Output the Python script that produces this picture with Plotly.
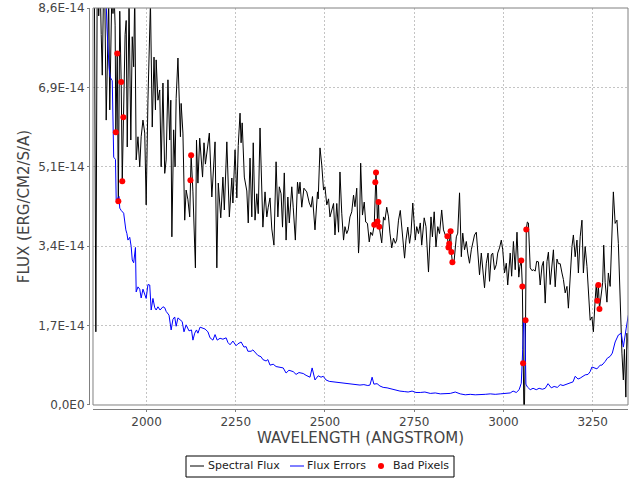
import numpy as np
import plotly.graph_objects as go

# wavelengths in Angstrom, flux values in units of 1e-14 erg/cm2/s/A
WAVELENGTH = [
    1850, 1854, 1858, 1862, 1866, 1870, 1873, 1876, 1880, 1883, 1887, 1890, 1894, 1897, 1900,
    1903, 1906, 1909, 1912, 1914, 1918, 1921, 1925, 1929, 1932, 1935, 1940, 1943, 1946, 1951,
    1956, 1960, 1964, 1967, 1971, 1976, 1981, 1985, 1990, 1995, 1999, 2004, 2011, 2016, 2021,
    2025, 2027, 2032, 2037, 2041, 2046, 2051, 2055, 2060, 2065, 2068, 2071, 2076, 2080, 2083,
    2088, 2095, 2097, 2102, 2107, 2111, 2116, 2121, 2123, 2125, 2130, 2134, 2137, 2140, 2144,
    2149, 2153, 2157, 2161, 2165, 2169, 2176, 2183, 2192, 2197, 2201, 2208, 2214, 2218, 2225,
    2232, 2239, 2242, 2248, 2253, 2257, 2262, 2265, 2268, 2274, 2281, 2285, 2290, 2295, 2299,
    2304, 2309, 2313, 2318, 2323, 2326, 2332, 2337, 2341, 2346, 2351, 2357, 2363, 2368, 2372,
    2377, 2381, 2386, 2391, 2396, 2400, 2407, 2411, 2417, 2423, 2427, 2430, 2435, 2441, 2449,
    2456, 2461, 2465, 2472, 2479, 2481, 2486, 2491, 2496, 2500, 2505, 2510, 2514, 2519, 2524,
    2528, 2533, 2538, 2542, 2547, 2552, 2556, 2561, 2565, 2570, 2575, 2580, 2584, 2589, 2594,
    2596, 2600, 2605, 2610, 2614, 2619, 2624, 2628, 2633, 2638, 2641, 2643, 2647, 2650, 2652,
    2659, 2664, 2668, 2673, 2678, 2682, 2687, 2692, 2697, 2701, 2706, 2711, 2715, 2720, 2723,
    2727, 2732, 2737, 2741, 2746, 2751, 2753, 2757, 2762, 2767, 2771, 2778, 2783, 2790, 2797,
    2801, 2806, 2811, 2816, 2821, 2827, 2832, 2837, 2843, 2846, 2848, 2852, 2854, 2857, 2862,
    2868, 2872, 2877, 2882, 2886, 2891, 2896, 2900, 2905, 2910, 2914, 2919, 2924, 2929, 2933,
    2938, 2942, 2947, 2952, 2957, 2961, 2966, 2970, 2975, 2980, 2984, 2989, 2994, 2998, 3003,
    3008, 3012, 3019, 3023, 3028, 3033, 3038, 3043, 3046, 3050, 3053, 3055, 3058, 3062, 3064,
    3067, 3070, 3075, 3080, 3084, 3089, 3093, 3098, 3103, 3108, 3112, 3117, 3122, 3126, 3131,
    3136, 3140, 3145, 3150, 3154, 3159, 3164, 3168, 3173, 3178, 3182, 3187, 3192, 3196, 3201,
    3206, 3210, 3215, 3220, 3224, 3229, 3234, 3238, 3243, 3248, 3252, 3257, 3260, 3263, 3266,
    3269, 3274, 3278, 3281, 3285, 3290, 3294, 3299, 3304, 3308, 3313, 3318, 3322, 3327, 3332,
    3336, 3339, 3343, 3346, 3350,
]
FLUX = [
    9.6, 9.0, 1.58, 9.5, 8.4, 9.2, 8.0, 7.12, 9.2, 8.9, 6.15, 7.66, 8.8, 6.37, 8.6,
    9.0, 8.45, 8.9, 8.2, 5.89, 7.59, 4.40, 8.5, 6.97, 4.83, 6.21, 8.0, 8.3, 5.57, 8.7,
    5.72, 7.95, 7.3, 8.9, 5.29, 5.79, 5.14, 5.79, 6.15, 5.87, 4.32, 6.58, 8.7, 6.0, 7.51,
    6.37, 7.45, 6.58, 6.8, 5.14, 6.95, 5.0, 5.29, 7.02, 5.72, 6.58, 3.63, 5.94, 5.14, 6.62,
    7.49, 5.79, 6.51, 5.87, 3.99, 4.64, 4.43, 4.06, 4.85, 5.39, 4.6, 3.6, 2.96, 5.72, 4.79,
    5.76, 5.3, 4.92, 5.66, 5.2, 5.44, 5.87, 4.49, 5.68, 2.96, 4.79, 4.04, 4.92, 4.21, 5.68,
    4.06, 4.9, 4.36, 5.51, 4.47, 5.6, 6.30, 5.66, 6.09, 4.92, 4.62, 3.93, 5.33, 4.06, 5.66,
    3.99, 4.56, 4.13, 5.98, 4.56, 3.84, 4.6, 4.06, 4.27, 4.47, 3.8, 3.45, 5.25, 4.06, 4.71,
    4.56, 3.84, 5.01, 3.56, 4.49, 3.93, 4.71, 4.27, 3.56, 4.81, 4.56, 4.81, 4.27, 4.68, 4.6,
    4.36, 4.27, 4.5, 3.78, 4.6, 4.45, 5.55, 5.18, 4.64, 4.71, 4.32, 4.45, 4.06, 4.2, 4.35,
    3.67, 4.35, 3.73, 5.03, 4.14, 3.56, 3.85, 3.70, 3.78, 4.06, 4.17, 4.53, 4.28, 4.68, 3.28,
    3.56, 5.22, 4.1, 4.38, 3.95, 3.92, 3.52, 3.73, 3.66, 3.89, 4.81, 5.02, 3.96, 4.38, 3.85,
    3.5, 4.06, 3.99, 4.27, 4.06, 3.71, 3.39, 3.6, 3.49, 3.56, 3.99, 4.2, 3.85, 3.35, 3.17,
    3.56, 3.84, 3.49, 3.71, 4.36, 3.68, 3.56, 3.85, 3.70, 3.93, 3.45, 4.04, 3.85, 2.87, 4.06,
    3.63, 4.17, 3.41, 3.85, 3.70, 4.21, 3.78, 3.67, 3.64, 3.40, 3.48, 3.75, 3.30, 3.08, 3.13,
    3.63, 3.71, 4.58, 3.2, 3.71, 3.35, 3.53, 3.28, 3.06, 3.35, 3.49, 3.67, 3.73, 3.28, 2.81,
    3.28, 2.99, 2.53, 3.06, 3.28, 2.67, 3.24, 3.28, 2.92, 3.03, 3.28, 3.39, 3.56, 3.35, 2.85,
    3.06, 2.59, 3.28, 2.78, 3.53, 2.92, 3.73, 2.76, 2.99, 3.12, 2.56, 0.90, -0.6, 1.83, 3.79,
    3.95, 3.93, 2.96, 2.9, 2.92, 2.89, 3.1, 3.09, 2.59, 3.0, 3.1, 2.2, 3.1, 3.3, 2.6,
    2.99, 3.35, 2.55, 3.15, 3.05, 3.05, 2.85, 2.71, 2.42, 2.56, 2.09, 2.92, 3.42, 3.67, 3.2,
    3.56, 2.85, 3.63, 3.99, 2.85, 3.42, 2.99, 2.42, 1.83, 1.9, 1.58, 2.27, 2.6, 2.25, 2.59,
    2.07, 2.35, 2.64, 3.45, 2.64, 2.22, 2.85, 2.56, 3.63, 4.60, 3.92, 3.99, 3.49, 2.12, 1.12,
    0.54, 1.2, 0.17, 1.55, 1.2,
]

ERR_WAVELENGTH = [
    1850, 1870, 1886, 1889, 1895, 1898, 1904, 1906, 1908, 1913, 1915, 1923, 1925, 1929, 1936,
    1942, 1945, 1948, 1953, 1957, 1960, 1964, 1969, 1971, 1976, 1981, 1985, 1990, 1995, 1999,
    2004, 2009, 2013, 2018, 2023, 2027, 2032, 2038, 2046, 2051, 2055, 2063, 2069, 2074, 2079,
    2083, 2088, 2095, 2100, 2105, 2111, 2119, 2126, 2130, 2135, 2140, 2144, 2150, 2158, 2164,
    2172, 2178, 2186, 2192, 2198, 2206, 2214, 2223, 2228, 2234, 2242, 2251, 2256, 2265, 2273,
    2279, 2284, 2293, 2298, 2307, 2312, 2321, 2326, 2335, 2340, 2346, 2355, 2363, 2371, 2383,
    2391, 2399, 2411, 2419, 2427, 2439, 2447, 2458, 2464, 2472, 2481, 2489, 2495, 2503, 2512,
    2523, 2531, 2542, 2556, 2570, 2584, 2598, 2609, 2620, 2626, 2632, 2637, 2646, 2654, 2663,
    2674, 2688, 2699, 2710, 2722, 2733, 2744, 2755, 2767, 2780, 2795, 2809, 2823, 2837, 2851,
    2865, 2879, 2893, 2907, 2921, 2935, 2949, 2963, 2977, 2991, 3005, 3019, 3027, 3036, 3044,
    3050, 3054, 3057, 3060, 3063, 3067, 3075, 3083, 3092, 3100, 3109, 3117, 3125, 3134, 3142,
    3151, 3159, 3167, 3176, 3187, 3195, 3201, 3209, 3215, 3223, 3229, 3237, 3243, 3248, 3257,
    3262, 3271, 3276, 3285, 3291, 3299, 3305, 3313, 3322, 3330, 3336, 3344, 3350,
]
FLUX_ERR = [
    12.0, 10.0, 9.0, 8.16, 7.3, 7.08, 7.0, 5.87, 5.35, 5.3, 4.43, 4.5, 4.25, 4.2, 4.14,
    3.78, 3.7, 3.56, 3.62, 3.42, 3.13, 3.07, 3.4, 2.44, 2.55, 2.5, 2.31, 2.5, 2.4, 2.3,
    2.6, 2.59, 2.05, 2.3, 2.1, 2.05, 2.12, 2.05, 2.12, 2.1, 2.02, 1.94, 1.62, 1.85, 1.9,
    1.7, 1.88, 1.84, 1.8, 1.58, 1.73, 1.6, 1.62, 1.40, 1.55, 1.62, 1.55, 1.68, 1.66, 1.64,
    1.58, 1.45, 1.40, 1.52, 1.4, 1.44, 1.42, 1.45, 1.35, 1.30, 1.38, 1.28, 1.32, 1.36, 1.25,
    1.26, 1.16, 1.16, 1.19, 1.1, 1.07, 1.04, 0.98, 0.95, 0.98, 0.86, 0.88, 0.83, 0.82, 0.80,
    0.69, 0.75, 0.72, 0.66, 0.70, 0.68, 0.64, 0.60, 0.80, 0.54, 0.63, 0.60, 0.62, 0.54, 0.51,
    0.50, 0.48, 0.47, 0.46, 0.45, 0.44, 0.43, 0.44, 0.42, 0.43, 0.60, 0.45, 0.46, 0.41, 0.38,
    0.37, 0.34, 0.33, 0.30, 0.29, 0.28, 0.30, 0.27, 0.27, 0.28, 0.25, 0.26, 0.24, 0.24, 0.25,
    0.28, 0.24, 0.22, 0.23, 0.22, 0.22, 0.23, 0.24, 0.23, 0.24, 0.25, 0.26, 0.30, 0.27, 0.33,
    0.47, 1.2, 1.88, 1.8, 0.45, 0.39, 0.33, 0.36, 0.33, 0.36, 0.34, 0.36, 0.46, 0.37, 0.40,
    0.38, 0.44, 0.42, 0.45, 0.48, 0.50, 0.62, 0.56, 0.58, 0.62, 0.65, 0.66, 0.72, 0.82, 0.80,
    0.78, 0.86, 0.86, 0.94, 1.01, 1.05, 1.12, 1.36, 1.51, 1.55, 1.25, 1.66, 1.94,
]

BAD_WAVELENGTH = [
    1914, 1918, 1921, 1929, 1932, 1935, 2123, 2125, 2638, 2641, 2643, 2647, 2650, 2652,
    2843, 2846, 2848, 2852, 2854, 2857, 3050, 3053, 3055, 3062, 3064, 3263, 3266, 3269,
]

X_TICKS = [2000, 2250, 2500, 2750, 3000, 3250]
Y_TICKS = [0, 1.714, 3.428, 5.142, 6.856, 8.57]
Y_TICK_LABELS = ["0,0E0", "1,7E-14", "3,4E-14", "5,1E-14", "6,9E-14", "8,6E-14"]
UNIT = 1e-14

flux = np.array(FLUX) * UNIT
flux_err = np.array(FLUX_ERR) * UNIT
bad_flux = [flux[WAVELENGTH.index(w)] for w in BAD_WAVELENGTH]

fig = go.Figure()
fig.add_trace(go.Scatter(x=WAVELENGTH, y=flux, mode="lines", name="Spectral Flux",
                         line=dict(color="black", width=1)))
fig.add_trace(go.Scatter(x=ERR_WAVELENGTH, y=flux_err, mode="lines", name="Flux Errors",
                         line=dict(color="blue", width=1)))
fig.add_trace(go.Scatter(x=BAD_WAVELENGTH, y=bad_flux, mode="markers", name="Bad Pixels",
                         marker=dict(color="red", size=6)))

axis_style = dict(
    showline=True, linecolor="#808080", linewidth=1,
    ticks="outside", ticklen=2, tickcolor="#808080",
    showgrid=True, gridcolor="#c4c4c4", griddash="2px,2px", gridwidth=1,
    zeroline=False, tickfont=dict(size=12, color="#444"),
    anchor="free", position=0, automargin=False,
)

# hand-built legend box in paper coordinates (plot area spans x 89..628 px, y 8..409 px)
def px_x(px):
    return (px - 89) / 539


def px_y(py):
    return (409 - py) / 401


legend_y = px_y(466)
legend_shapes = [
    dict(type="rect", xref="paper", yref="paper", x0=px_x(186), x1=px_x(454),
         y0=px_y(477), y1=px_y(456), line=dict(color="black", width=1), fillcolor="white"),
    dict(type="line", xref="paper", yref="paper", x0=px_x(190), x1=px_x(204),
         y0=legend_y, y1=legend_y, line=dict(color="black", width=1)),
    dict(type="line", xref="paper", yref="paper", x0=px_x(290), x1=px_x(304),
         y0=legend_y, y1=legend_y, line=dict(color="blue", width=1)),
    dict(type="circle", xref="paper", yref="paper", x0=px_x(378), x1=px_x(384),
         y0=px_y(469), y1=px_y(463), line=dict(color="red", width=0), fillcolor="red"),
]
legend_labels = [("Spectral Flux", 206), ("Flux Errors", 305), ("Bad Pixels", 391)]
legend_annotations = [
    dict(text=t, xref="paper", yref="paper", x=px_x(x0), y=legend_y, xanchor="left",
         yanchor="middle", showarrow=False, font=dict(size=11, color="#222"))
    for t, x0 in legend_labels
]

fig.update_layout(
    width=640, height=480,
    margin=dict(l=89, r=12, t=8, b=71),
    plot_bgcolor="white", paper_bgcolor="white",
    font=dict(family="DejaVu Sans", color="#444"),
    showlegend=False,
    xaxis=dict(axis_style, domain=[0.0074, 1], range=[1850, 3349], tickvals=X_TICKS,
               title=dict(text="WAVELENGTH (ANGSTROM)", font=dict(size=15), standoff=4)),
    yaxis=dict(axis_style, domain=[0.01, 1], range=[0, 8.57 * UNIT],
               tickvals=[v * UNIT for v in Y_TICKS], ticktext=Y_TICK_LABELS,
               title=dict(text="FLUX (ERG/CM2/S/A)", font=dict(size=15), standoff=4)),
    shapes=[dict(type="rect", xref="x domain", yref="y domain", x0=0, x1=1, y0=0, y1=1,
                 line=dict(color="#808080", width=1), layer="above")] + legend_shapes,
    annotations=legend_annotations,
)

# the page body has a default 8px margin; drop it so the figure sits at the window origin
fig.write_html("out.html", config={"displayModeBar": False},
               post_script="document.body.style.margin = '0';")
